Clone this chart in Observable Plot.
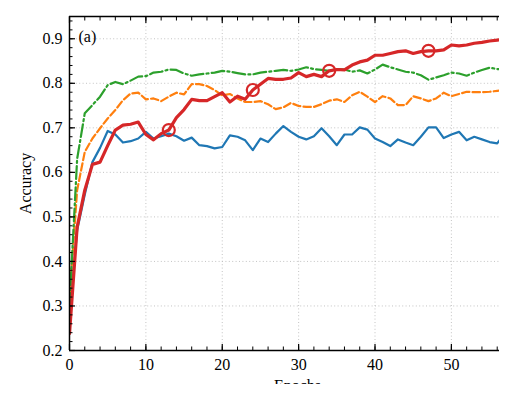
<!DOCTYPE html>
<html>
<head>
<meta charset="utf-8">
<script src="https://cdn.jsdelivr.net/npm/d3@7"></script>
<script src="https://cdn.jsdelivr.net/npm/@observablehq/plot@0.6"></script>
<style>
  html, body { margin: 0; padding: 0; background: white; }
  #chart { width: 515px; height: 404px; overflow: hidden; }
</style>
</head>
<body>
<div id="chart"></div>
<script>
const epochs = d3.range(0, 58);
const seriesBlue = [0.28,0.47,0.55,0.623,0.655,0.693,0.685,0.667,0.670,0.676,0.691,0.676,0.681,0.687,0.681,0.671,0.678,0.661,0.659,0.654,0.657,0.683,0.680,0.672,0.650,0.676,0.668,0.687,0.704,0.691,0.680,0.674,0.681,0.699,0.681,0.661,0.685,0.685,0.701,0.696,0.676,0.668,0.659,0.674,0.667,0.661,0.680,0.701,0.701,0.677,0.685,0.691,0.672,0.680,0.674,0.668,0.665,0.688];
const seriesOrange = [0.32,0.56,0.646,0.676,0.699,0.721,0.740,0.762,0.777,0.779,0.764,0.766,0.760,0.770,0.779,0.775,0.798,0.798,0.794,0.785,0.773,0.776,0.766,0.758,0.758,0.760,0.753,0.742,0.746,0.756,0.749,0.747,0.747,0.753,0.761,0.764,0.758,0.773,0.781,0.770,0.758,0.771,0.766,0.751,0.751,0.771,0.766,0.760,0.766,0.779,0.771,0.776,0.781,0.780,0.780,0.781,0.783,0.785];
const seriesGreen = [0.30,0.63,0.733,0.751,0.770,0.796,0.803,0.798,0.806,0.815,0.816,0.824,0.826,0.831,0.830,0.822,0.817,0.820,0.822,0.824,0.828,0.826,0.823,0.820,0.820,0.824,0.826,0.828,0.830,0.828,0.831,0.836,0.832,0.830,0.828,0.832,0.831,0.826,0.829,0.822,0.831,0.842,0.836,0.831,0.826,0.824,0.818,0.808,0.813,0.818,0.824,0.822,0.817,0.824,0.830,0.835,0.832,0.832];
const seriesRed = [0.238,0.477,0.56,0.618,0.623,0.660,0.695,0.706,0.708,0.713,0.685,0.673,0.687,0.695,0.723,0.741,0.764,0.761,0.761,0.770,0.779,0.758,0.771,0.764,0.785,0.798,0.811,0.809,0.809,0.812,0.824,0.815,0.820,0.815,0.828,0.831,0.830,0.841,0.848,0.852,0.863,0.863,0.867,0.871,0.873,0.867,0.871,0.873,0.873,0.875,0.886,0.884,0.886,0.890,0.892,0.895,0.897,0.899];
const markerEpochs = [13, 24, 34, 47];

const xMajor = [0, 10, 20, 30, 40, 50];
const xMinor = d3.range(0, 57, 2);
const yMajor = [0.2, 0.3, 0.4, 0.5, 0.6, 0.7, 0.8, 0.9];
const yMinor = d3.range(0.2, 0.951, 0.02);

const rows = (vals) => epochs.map((e, i) => ({epoch: e, acc: vals[i]}));
const markers = markerEpochs.map(e => ({epoch: e, acc: seriesRed[e]}));

const blue = "#1f77b4", orange = "#ff7f0e", green = "#2ca02c", red = "#d62728";
const fs = 16;

const chart = Plot.plot({
  width: 515,
  height: 384,
  marginLeft: 69,
  marginRight: 16,
  marginTop: 16,
  marginBottom: 34,
  style: {fontFamily: "'Liberation Serif', 'DejaVu Serif', serif", fontSize: "16px", background: "white", overflow: "hidden"},
  x: {domain: [0, 56.3], axis: null},
  y: {domain: [0.2, 0.95], axis: null},
  marks: [
    Plot.gridX(xMajor.filter(d => d > 0), {stroke: "#bdbdbd", strokeOpacity: 1, strokeWidth: 0.9, strokeDasharray: "1,2.4"}),
    Plot.gridY(yMajor.filter(d => d > 0.2), {stroke: "#bdbdbd", strokeOpacity: 1, strokeWidth: 0.9, strokeDasharray: "1,2.4"}),
    Plot.line(rows(seriesBlue), {x: "epoch", y: "acc", stroke: blue, strokeWidth: 2.2, clip: true}),
    Plot.line(rows(seriesOrange), {x: "epoch", y: "acc", stroke: orange, strokeWidth: 2.2, strokeDasharray: "7.4,3.2", clip: true}),
    Plot.line(rows(seriesGreen), {x: "epoch", y: "acc", stroke: green, strokeWidth: 2.2, strokeDasharray: "12.8,3.2,2,3.2", clip: true}),
    Plot.line(rows(seriesRed), {x: "epoch", y: "acc", stroke: red, strokeWidth: 3.2, clip: true}),
    Plot.dot(markers, {x: "epoch", y: "acc", r: 6, stroke: red, strokeWidth: 2.2, fill: "none"}),
    // spines
    Plot.ruleX([0], {stroke: "black", strokeWidth: 1.5}),
    Plot.ruleY([0.2], {stroke: "black", strokeWidth: 1.5}),
    Plot.ruleY([0.95], {stroke: "black", strokeWidth: 1.5}),
    // inward ticks
    Plot.axisX(xMajor, {anchor: "bottom", tickSize: 6, dy: -6, fill: "none", stroke: "black", strokeWidth: 1.2, label: null}),
    Plot.axisX(xMinor, {anchor: "bottom", tickSize: 3.5, dy: -3.5, fill: "none", stroke: "black", strokeWidth: 1, label: null}),
    Plot.axisX(xMajor, {anchor: "top", tickSize: 6, dy: 6, fill: "none", stroke: "black", strokeWidth: 1.2, label: null}),
    Plot.axisX(xMinor, {anchor: "top", tickSize: 3.5, dy: 3.5, fill: "none", stroke: "black", strokeWidth: 1, label: null}),
    Plot.axisY(yMajor, {anchor: "left", tickSize: 6, dx: 6, fill: "none", stroke: "black", strokeWidth: 1.2, label: null}),
    Plot.axisY(yMinor, {anchor: "left", tickSize: 3.5, dx: 3.5, fill: "none", stroke: "black", strokeWidth: 1, label: null}),
    // tick labels
    Plot.axisX(xMajor, {anchor: "bottom", tickSize: 0, tickPadding: 8, fill: "black", fontSize: fs, tickFormat: d3.format("d"), label: null}),
    Plot.axisY(yMajor, {anchor: "left", tickSize: 0, tickPadding: 7, fill: "black", fontSize: fs, tickFormat: d3.format(".1f"), label: null}),
    // labels
    Plot.text(["Accuracy"], {frameAnchor: "left", text: d => d, rotate: -90, dx: -44, fontSize: fs, fill: "black", textAnchor: "middle", lineAnchor: "middle"}),
    Plot.text(["Epochs"], {frameAnchor: "bottom", text: d => d, dx: 13, dy: 29, fontSize: fs, fill: "black", textAnchor: "middle", lineAnchor: "top"}),
    Plot.text(["(a)"], {frameAnchor: "top-left", text: d => d, dx: 9, dy: 20.5, fontSize: fs, fill: "black", textAnchor: "start", lineAnchor: "middle"})
  ]
});
document.getElementById("chart").appendChild(chart);
</script>
</body>
</html>
